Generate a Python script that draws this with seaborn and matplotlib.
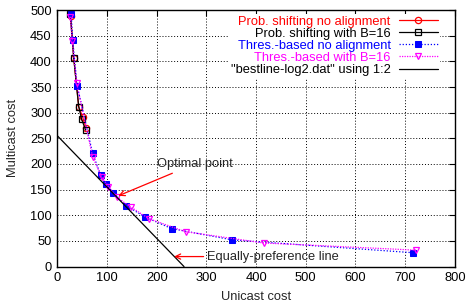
import numpy as np
import pandas as pd
import seaborn as sns
import matplotlib.pyplot as plt

# data
prob_na_x = [27, 33, 43, 51, 58]
prob_na_y = [488, 407, 312, 291, 270]
prob_b16_x = [26, 33, 43, 49, 57]
prob_b16_y = [492, 407, 312, 287, 266]
thres_na_x = [28, 31, 40, 71, 87, 98, 113, 138, 176, 230, 352, 716]
thres_na_y = [492, 441, 352, 221, 179, 161, 143, 119, 97, 74, 52, 27]
thres_b16_x = [26, 30, 39, 71, 89, 103, 120, 148, 185, 258, 415, 722]
thres_b16_y = [487, 440, 357, 214, 175, 156, 135, 116, 93, 68, 46, 32]
best_x = [0, 255]
best_y = [255, 0]

labels = ["Prob. shifting no alignment", "Prob. shifting with B=16",
          "Thres.-based no alignment", "Thres.-based with B=16",
          '"bestline-log2.dat" using 1:2']
colors = ["#ff0000", "#000000", "#0000ff", "#ff00ff", "#000000"]

sns.set_theme(style="white")
plt.rcParams['font.family'] = ['Liberation Sans', 'DejaVu Sans']
plt.rcParams['xtick.direction'] = 'in'
plt.rcParams['ytick.direction'] = 'in'

fs = 9.3
fig = plt.figure(figsize=(4.66, 3.05), dpi=100)
ax = fig.add_axes([0.123, 0.126, 0.853, 0.841])

sns.lineplot(x=prob_na_x, y=prob_na_y, ax=ax, color=colors[0], lw=0.9,
             marker='o', markersize=4.5, markerfacecolor='none',
             markeredgecolor=colors[0], markeredgewidth=0.9, label=labels[0],
             sort=False)
sns.lineplot(x=prob_b16_x, y=prob_b16_y, ax=ax, color=colors[1], lw=0.9,
             marker='s', markersize=4.5, markerfacecolor='none',
             markeredgecolor=colors[1], markeredgewidth=0.9, label=labels[1],
             sort=False)
sns.lineplot(x=thres_na_x, y=thres_na_y, ax=ax, color=colors[2], lw=0.9,
             linestyle=(0, (1, 1.5)), marker='s', markersize=5,
             markerfacecolor=colors[2], markeredgecolor=colors[2],
             label=labels[2], sort=False)
sns.lineplot(x=thres_b16_x, y=thres_b16_y, ax=ax, color=colors[3], lw=0.9,
             linestyle=(0, (1, 1)), marker='v', markersize=5,
             markerfacecolor='none', markeredgecolor=colors[3],
             markeredgewidth=0.9, label=labels[3], sort=False)
sns.lineplot(x=best_x, y=best_y, ax=ax, color=colors[4], lw=0.9,
             label=labels[4], sort=False)

ax.set_xlim(0, 800)
ax.set_ylim(0, 500)
ax.set_xticks(np.arange(0, 801, 100))
ax.set_yticks(np.arange(0, 501, 50))
ax.grid(True, color='black', linestyle=(0, (1, 2)), linewidth=0.7)
ax.tick_params(labelsize=fs, length=4, width=0.8, top=True, right=True,
               pad=4, colors='black')
for s in ax.spines.values():
    s.set_color('black')
    s.set_linewidth(1.0)
ax.set_xlabel("Unicast cost", fontsize=fs, labelpad=5)
ax.set_ylabel("Multicast cost", fontsize=fs, labelpad=8)

ax.annotate("Optimal point", xy=(123, 138), xytext=(200, 200),
            fontsize=fs, va='center', ha='left',
            arrowprops=dict(arrowstyle='->', color='red', lw=0.9,
                            shrinkA=0, shrinkB=0))
ax.annotate("Equally-preference line", xy=(235, 19.5), xytext=(301, 19.5),
            fontsize=fs, va='center', ha='left',
            arrowprops=dict(arrowstyle='->', color='red', lw=0.9,
                            shrinkA=0, shrinkB=0))

leg = ax.legend(loc='upper right', bbox_to_anchor=(0.962, 0.985),
                markerfirst=False, frameon=True, fancybox=False,
                facecolor='white', edgecolor='none', framealpha=1,
                fontsize=fs, handlelength=3.0, labelspacing=0.0,
                handletextpad=0.65, borderaxespad=0, borderpad=0.15)
for t, c in zip(leg.get_texts(), colors):
    t.set_color(c)

fig.savefig("out.png", dpi=100)
